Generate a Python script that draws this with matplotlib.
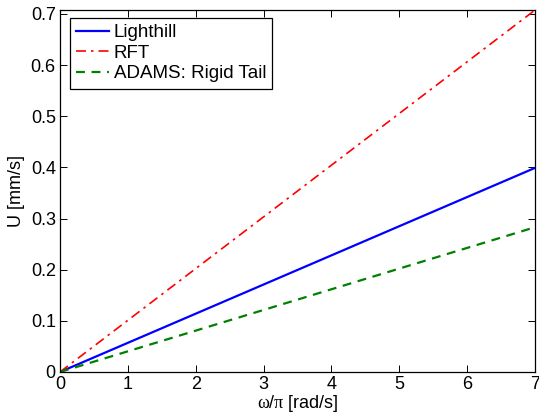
import matplotlib
matplotlib.use("Agg")
from matplotlib import pyplot as plt
import numpy as np

plt.rcParams['font.family'] = ['Liberation Sans', 'DejaVu Sans']
plt.rcParams['font.size'] = 13
plt.rcParams['mathtext.fontset'] = 'custom'
plt.rcParams['mathtext.rm'] = 'Liberation Sans'
plt.rcParams['mathtext.it'] = 'Liberation Serif'

# swimming speed vs. normalised frequency
omega = [0, 7]
lighthill = [0, 0.399]
rft = [0, 0.7075]
adams = [0, 0.283]

fig = plt.figure(figsize=(5.39, 4.2), dpi=100)
ax = fig.add_axes([0.1113, 0.1143, 0.8813, 0.8617])

ax.plot(omega, lighthill, color='#0000ff', lw=1.6, ls='-', label='Lighthill')
ax.plot(omega, rft, color='#ff0000', lw=1.2, ls=(0, (6, 3, 1.5, 3)), label='RFT')
ax.plot(omega, adams, color='#008000', lw=1.6, ls=(0, (4, 3)), label='ADAMS: Rigid Tail')

ax.set_xlim(0, 7)
ax.set_ylim(0, 0.7075)
ax.set_xticks(np.arange(0, 8, 1))
ax.set_yticks(np.arange(0, 0.75, 0.1))
ax.set_yticklabels(['0', '0.1', '0.2', '0.3', '0.4', '0.5', '0.6', '0.7'])
ax.tick_params(direction='in', top=True, right=True, length=5, width=0.7, pad=3)
for s in ax.spines.values():
    s.set_linewidth(0.9)

ax.set_xlabel(r'$\omega/\pi$ [rad/s]', labelpad=0)
ax.set_ylabel('U [mm/s]', labelpad=4)

leg = ax.legend(loc='upper left', bbox_to_anchor=(0.021, 0.978), borderaxespad=0,
                fontsize=13.5, handlelength=1.75, handletextpad=0.25,
                labelspacing=0.18, borderpad=0.33, fancybox=False,
                edgecolor='black', framealpha=1)
leg.get_frame().set_linewidth(0.9)

fig.savefig('out.png', dpi=100)
